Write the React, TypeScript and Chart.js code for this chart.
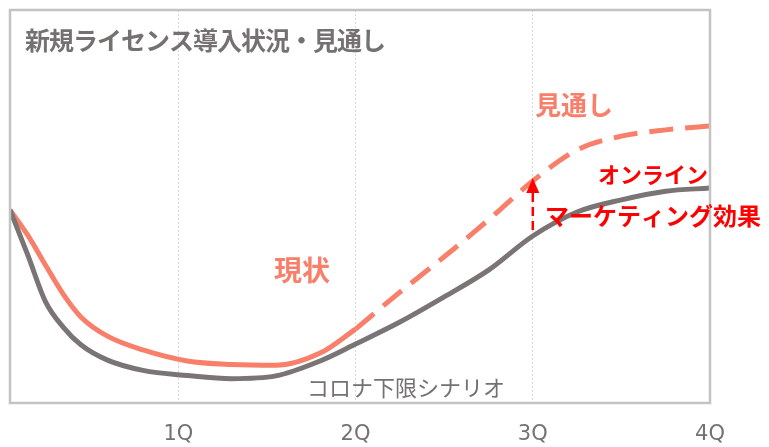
import React, { useEffect, useRef } from "react";
import { Chart, registerables } from "chart.js";

Chart.register(...registerables);

// Quarter positions (x) for the sampled curve points
const grayX = [0.05, 0.15, 0.25, 0.35, 0.45, 0.6, 0.8, 1.05, 1.3, 1.55, 1.8, 2.0, 2.25, 2.5, 2.75, 3.0, 3.25, 3.5, 3.75, 4.0];
// コロナ下限シナリオ (gray)
const grayValues = [49.1, 37.7, 25.8, 19.3, 14.8, 10.9, 8.3, 7.0, 6.2, 6.9, 10.7, 15.0, 20.6, 27.0, 33.8, 42.5, 48.6, 51.7, 53.9, 54.7];
// 現状 (solid salmon)
const currentX = [0.05, 0.15, 0.25, 0.35, 0.45, 0.6, 0.8, 1.05, 1.3, 1.55, 1.8, 2.0];
const currentValues = [49.1, 42.7, 35.1, 27.7, 21.9, 17.0, 13.5, 10.7, 9.8, 9.6, 12.7, 18.8];
// 見通し (dashed salmon)
const forecastX = [2.0, 2.25, 2.5, 2.75, 3.0, 3.25, 3.5, 3.75, 4.0];
const forecastValues = [18.8, 28.2, 37.2, 46.6, 56.5, 64.4, 67.9, 69.5, 70.5];
// x tick labels
const tickLabels = ["", "1Q", "2Q", "3Q", "4Q"];

const TITLE = "新規ライセンス導入状況・見通し";
const SALMON = "#f8806b";
const GRAY = "#7a7574";
const TEXT_GRAY = "#767171";
const RED = "#ff0000";
const JP = "'Noto Sans CJK JP', sans-serif";

const zip = (xs: number[], ys: number[]) => xs.map((x, i) => ({ x, y: ys[i] }));

export default function App() {
  const ref = useRef<HTMLCanvasElement | null>(null);

  useEffect(() => {
    const canvas = ref.current;
    if (!canvas) return;

    const decor = {
      id: "decor",
      afterDatasetsDraw(chart: any) {
        const { ctx, chartArea, scales } = chart;
        const xs = scales.x;
        const ys = scales.y;
        ctx.save();
        // frame
        ctx.strokeStyle = "#c3c3c3";
        ctx.lineWidth = 2.5;
        ctx.setLineDash([]);
        ctx.strokeRect(chartArea.left, chartArea.top, chartArea.right - chartArea.left, chartArea.bottom - chartArea.top);

        // title
        ctx.textBaseline = "middle";
        ctx.textAlign = "left";
        ctx.fillStyle = TEXT_GRAY;
        ctx.font = `bold 25px ${JP}`;
        try { (ctx as any).letterSpacing = "-1px"; } catch (e) {}
        ctx.fillText(TITLE, 25, 40);
        try { (ctx as any).letterSpacing = "0px"; } catch (e) {}

        // labels
        ctx.fillStyle = SALMON;
        ctx.font = `bold 26px ${JP}`;
        ctx.fillText("見通し", 535, 105);
        ctx.font = `bold 28px ${JP}`;
        ctx.fillText("現状", 274, 270);

        ctx.fillStyle = RED;
        ctx.font = `bold 22px ${JP}`;
        ctx.fillText("オンライン", 598, 175);
        ctx.font = `bold 24px ${JP}`;
        ctx.fillText("マーケティング効果", 545, 216);

        ctx.fillStyle = TEXT_GRAY;
        ctx.font = `22px ${JP}`;
        ctx.fillText("コロナ下限シナリオ", 307, 388);

        // arrow at 3Q between gray and forecast
        const ax = xs.getPixelForValue(3);
        const iF = forecastX.indexOf(3);
        const iG = grayX.indexOf(3);
        const tip = ys.getPixelForValue(forecastValues[iF]) - 3;
        const bottom = ys.getPixelForValue(grayValues[iG]) - 4;
        ctx.fillStyle = RED;
        ctx.beginPath();
        ctx.moveTo(ax, tip);
        ctx.lineTo(ax - 6.5, tip + 15);
        ctx.lineTo(ax + 6.5, tip + 15);
        ctx.closePath();
        ctx.fill();
        ctx.strokeStyle = RED;
        ctx.lineWidth = 2.5;
        ctx.setLineDash([9, 5]);
        ctx.beginPath();
        ctx.moveTo(ax, tip + 15);
        ctx.lineTo(ax, bottom);
        ctx.stroke();
        ctx.restore();
      },
    };

    const chart = new Chart(canvas, {
      type: "line",
      data: {
        datasets: [
          {
            data: zip(grayX, grayValues),
            borderColor: GRAY,
            borderWidth: 5,
            pointRadius: 0,
            cubicInterpolationMode: "monotone",
            fill: false,
          },
          {
            data: zip(currentX, currentValues),
            borderColor: SALMON,
            borderWidth: 5,
            pointRadius: 0,
            cubicInterpolationMode: "monotone",
            fill: false,
          },
          {
            data: zip(forecastX, forecastValues),
            borderColor: SALMON,
            borderWidth: 5,
            borderDash: [24, 12],
            borderCapStyle: "butt",
            pointRadius: 0,
            cubicInterpolationMode: "monotone",
            fill: false,
          },
        ],
      },
      options: {
        animation: false,
        responsive: false,
        maintainAspectRatio: false,
        layout: { padding: { left: 10, top: 10, right: 59, bottom: 0 } },
        plugins: { legend: { display: false }, tooltip: { enabled: false }, title: { display: false } },
        scales: {
          x: {
            type: "linear",
            min: 0.05,
            max: 4,
            afterBuildTicks: (scale: any) => {
              scale.ticks = scale.ticks.filter((t: any) => t.value > 0.5);
            },
            afterFit: (scale: any) => {
              scale.height = 44;
            },
            ticks: {
              stepSize: 1,
              padding: 19,
              color: TEXT_GRAY,
              font: { family: "'DejaVu Sans', sans-serif", size: 21 },
              maxRotation: 0,
              callback: (v: any) => tickLabels[Math.round(Number(v))] ?? "",
            },
            grid: { display: true, color: "#d9d9d9", lineWidth: 1, drawTicks: false },
            border: { display: false, dash: [2, 2] },
          },
          y: { display: false, min: 0, max: 100 },
        },
      },
      plugins: [decor],
    } as any);

    return () => chart.destroy();
  }, []);

  return (
    <div style={{ position: "absolute", left: 0, top: 0, width: 769, height: 447, background: "#fff" }}>
      <canvas ref={ref} width={769} height={447} style={{ display: "block", width: 769, height: 447 }} />
    </div>
  );
}
